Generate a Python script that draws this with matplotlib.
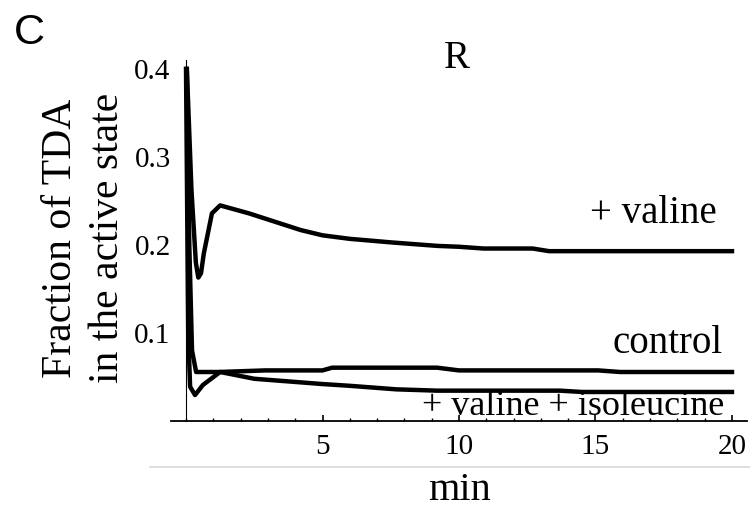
import numpy as np
import matplotlib
matplotlib.use("Agg")
import matplotlib.pyplot as plt
from matplotlib.ticker import MultipleLocator

# time (min) and fraction of TDA in the active state
t_valine = [0.03, 0.2, 0.36, 0.45, 0.55, 0.65, 0.78, 0.95, 1.25, 2.3, 3.3,
            4.2, 5.0, 6.0, 7.5, 9.2, 10.0, 10.9, 12.7, 13.3, 16.0, 20.0]
valine = [0.40, 0.262, 0.18, 0.163, 0.168, 0.19, 0.21, 0.236, 0.245, 0.236,
          0.226, 0.217, 0.211, 0.207, 0.203, 0.199, 0.198, 0.196, 0.196,
          0.193, 0.193, 0.193]

t_control = [0.03, 0.12, 0.22, 0.37, 1.2, 2.9, 5.0, 5.35, 9.2, 10.0, 15.1,
             15.9, 20.0]
control = [0.40, 0.20, 0.08, 0.0557, 0.0557, 0.0575, 0.0575, 0.0606,
           0.0606, 0.0575, 0.0575, 0.0557, 0.0557]

t_isoleucine = [0.0, 0.08, 0.15, 0.33, 0.62, 1.25, 2.5, 5.0, 6.0, 7.7, 9.2,
                13.7, 14.5, 20.0]
isoleucine = [0.40, 0.10, 0.039, 0.0295, 0.041, 0.0557, 0.048, 0.042, 0.040,
              0.036, 0.0345, 0.0345, 0.033, 0.033]

serif = "Liberation Serif"

fig = plt.figure(figsize=(7.5, 5.11), dpi=100)
ax = fig.add_axes([0.228, 0.1761, 0.768, 0.7061])

for t, y in [(t_valine, valine), (t_control, control), (t_isoleucine, isoleucine)]:
    ax.plot(t, y, color="black", lw=3.2, solid_joinstyle="round", clip_on=False)

ax.set_xlim(-0.55, 20.55)
ax.set_ylim(0, 0.41)

ax.spines["top"].set_visible(False)
ax.spines["right"].set_visible(False)
ax.spines["left"].set_position(("data", 0))
ax.spines["left"].set_linewidth(0.8)
ax.spines["bottom"].set_linewidth(1.3)

ax.set_xticks([5, 10, 15, 20])
ax.xaxis.set_minor_locator(MultipleLocator(1))
ax.set_yticks([0.1, 0.2, 0.3, 0.4])
ax.set_yticklabels(["0.1", "0.2", "0.3", "0.4"])
ax.tick_params(axis="x", which="major", direction="in", length=4, width=1.2,
               pad=9, labelsize=21)
ax.tick_params(axis="x", which="minor", direction="in", length=2.5, width=1)
ax.tick_params(axis="y", direction="in", length=0, pad=11, labelsize=21)
for lab in ax.get_xticklabels() + ax.get_yticklabels():
    lab.set_fontfamily(serif)

# curve labels
ax.text(19.45, 0.225, "+ valine", ha="right", va="baseline",
        fontsize=28, family=serif)
ax.text(19.67, 0.077, "control", ha="right", va="baseline",
        fontsize=28, family=serif)
ax.text(19.7, 0.007, "+ valine + isoleucine", ha="right", va="baseline",
        fontsize=26, family=serif)

fig.text(457 / 750, 1 - 58 / 511, "R", ha="center", va="center",
         fontsize=28, family=serif)
fig.text(29 / 750, 1 - 33 / 511, "C", ha="center", va="center",
         fontsize=31, family="Liberation Sans")

fig.text(84 / 750, 1 - 238 / 511, "Fraction of TDA\nin the active state",
         rotation=90, ha="center", va="center", multialignment="center",
         fontsize=30, family=serif, linespacing=1.3)
fig.text(460 / 750, 1 - 490 / 511, "min", ha="center", va="center",
         fontsize=29, family=serif)

# thin grey separator under the tick labels
fig.add_artist(plt.Line2D([150 / 750, 1], [1 - 467 / 511, 1 - 467 / 511],
                          color="#d9d9d9", lw=1.2))

fig.savefig("out.png", dpi=100)
